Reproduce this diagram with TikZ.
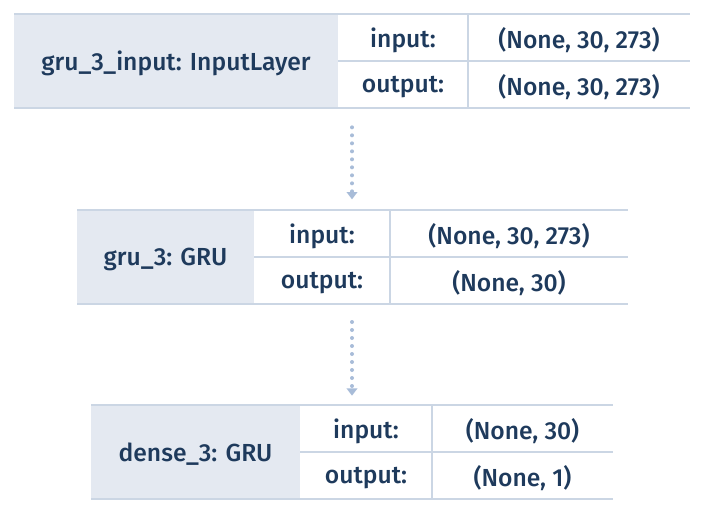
\documentclass[tikz,border=0pt]{standalone}
\usepackage{fontspec}
\setmainfont{Fira Sans}[UprightFont={* Medium}]
\usetikzlibrary{arrows.meta}
\definecolor{txt}{HTML}{1E3A5C}
\definecolor{lbl}{HTML}{E4E9F1}
\definecolor{rulec}{HTML}{CBD6E4}
\definecolor{arr}{HTML}{A8BCD8}
\tikzset{
  celltext/.style={text=txt, inner sep=0pt, anchor=center},
  thinrule/.style={draw=rulec, line width=0.9pt},
  thickrule/.style={draw=rulec, line width=1.6pt},
  conn/.style={draw=arr, line width=3pt, line cap=round, dash pattern=on 0pt off 6pt,
    -{Triangle[width=8pt,length=5.5pt,fill=arr]}},
}
% #1 name, #2 x0, #3 x1, #4 x2, #5 x3, #6 y0, #7 label, #8 input, #9 output
\newcommand\layertable[9]{%
  \fill[lbl] (#2,#6) rectangle (#3,{#6+94});
  \draw[thinrule] (#3,{#6+47}) -- (#5,{#6+47});
  \draw[thinrule] (#4,#6) -- (#4,{#6+94});
  \draw[thinrule] (#2,#6) -- (#5,#6);
  \draw[thickrule] (#2,{#6+94}) -- (#5,{#6+94});
  \node[celltext] (#1-lbl) at ({(#2+#3)/2},{#6+49.5}) {#7};
  \node[celltext] (#1-ink) at ({(#3+#4)/2},{#6+26}) {input:};
  \node[celltext] (#1-outk) at ({(#3+#4)/2},{#6+73}) {output:};
  \node[celltext] (#1-inv) at ({(#4+#5)/2},{#6+26}) {#8};
  \node[celltext] (#1-outv) at ({(#4+#5)/2},{#6+73}) {#9};
  \coordinate (#1-top) at (352,#6);
  \coordinate (#1-bot) at (352,{#6+94});
}
\begin{document}
\begin{tikzpicture}[x=0.75pt,y=-0.75pt, font=\fontsize{18.5}{22}\selectfont]
\useasboundingbox (0,0) rectangle (705,514);
\layertable{t1}{14}{338}{468}{690}{14}{gru\_3\_input: InputLayer}{(None, 30, 273)}{(None, 30, 273)}
\layertable{t2}{77}{254}{390}{628}{210}{gru\_3: GRU}{(None, 30, 273)}{(None, 30)}
\layertable{t3}{91}{300}{432}{613}{405}{dense\_3: GRU}{(None, 30)}{(None, 1)}
\draw[conn, shorten <=14.5pt, shorten >=8pt] (t1-bot) -- (t2-top);
\draw[conn, shorten <=13.5pt, shorten >=7pt] (t2-bot) -- (t3-top);
\end{tikzpicture}
\end{document}
